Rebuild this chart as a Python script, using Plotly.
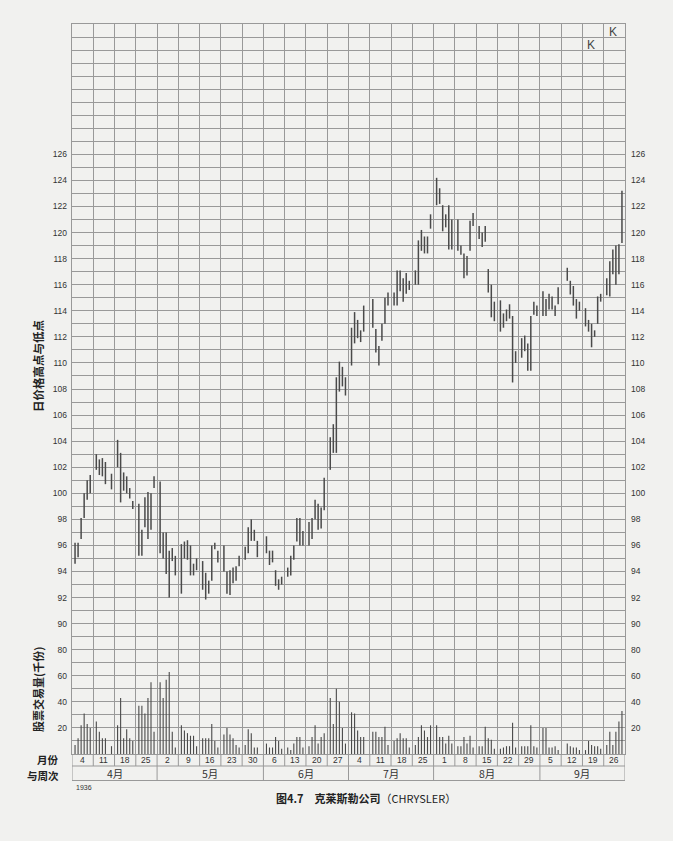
import plotly.graph_objects as go
import pandas as pd

# ---------------- data ----------------
dates = [
    "1936-03-30", "1936-03-31", "1936-04-01", "1936-04-02", "1936-04-03", "1936-04-04",
    "1936-04-06", "1936-04-07", "1936-04-08", "1936-04-09", "1936-04-11",
    "1936-04-13", "1936-04-14", "1936-04-15", "1936-04-16", "1936-04-17", "1936-04-18",
    "1936-04-20", "1936-04-21", "1936-04-22", "1936-04-23", "1936-04-24", "1936-04-25",
    "1936-04-27", "1936-04-28", "1936-04-29", "1936-04-30", "1936-05-01", "1936-05-02",
    "1936-05-04", "1936-05-05", "1936-05-06", "1936-05-07", "1936-05-08", "1936-05-09",
    "1936-05-11", "1936-05-12", "1936-05-13", "1936-05-14", "1936-05-15", "1936-05-16",
    "1936-05-18", "1936-05-19", "1936-05-20", "1936-05-21", "1936-05-22", "1936-05-23",
    "1936-05-25", "1936-05-26", "1936-05-27", "1936-05-28", "1936-05-29",
    "1936-06-01", "1936-06-02", "1936-06-03", "1936-06-04", "1936-06-05", "1936-06-06",
    "1936-06-08", "1936-06-09", "1936-06-10", "1936-06-11", "1936-06-12", "1936-06-13",
    "1936-06-15", "1936-06-16", "1936-06-17", "1936-06-18", "1936-06-19", "1936-06-20",
    "1936-06-22", "1936-06-23", "1936-06-24", "1936-06-25", "1936-06-26", "1936-06-27",
    "1936-06-29", "1936-06-30", "1936-07-01", "1936-07-02", "1936-07-03",
    "1936-07-06", "1936-07-07", "1936-07-08", "1936-07-09", "1936-07-10", "1936-07-11",
    "1936-07-13", "1936-07-14", "1936-07-15", "1936-07-16", "1936-07-17", "1936-07-18",
    "1936-07-20", "1936-07-21", "1936-07-22", "1936-07-23", "1936-07-24", "1936-07-25",
    "1936-07-27", "1936-07-28", "1936-07-29", "1936-07-30", "1936-07-31", "1936-08-01",
    "1936-08-03", "1936-08-04", "1936-08-05", "1936-08-06", "1936-08-07", "1936-08-08",
    "1936-08-10", "1936-08-11", "1936-08-12", "1936-08-13", "1936-08-14", "1936-08-15",
    "1936-08-17", "1936-08-18", "1936-08-19", "1936-08-20", "1936-08-21", "1936-08-22",
    "1936-08-24", "1936-08-25", "1936-08-26", "1936-08-27", "1936-08-28", "1936-08-29",
    "1936-08-31", "1936-09-01", "1936-09-02", "1936-09-03", "1936-09-04", "1936-09-05",
    "1936-09-08", "1936-09-09", "1936-09-10", "1936-09-11", "1936-09-12",
    "1936-09-14", "1936-09-15", "1936-09-16", "1936-09-17", "1936-09-18", "1936-09-19",
    "1936-09-21", "1936-09-22", "1936-09-23", "1936-09-24", "1936-09-25", "1936-09-26",
]

highs = [
    96.2, 96.2, 98.1, 100.0, 101.0, 101.4,
    103.0, 102.6, 102.7, 102.4, 101.5,
    104.1, 103.1, 101.6, 101.3, 100.4, 99.4,
    99.2, 97.2, 99.7, 100.1, 100.0, 101.3,
    100.9, 97.0, 97.0, 95.6, 95.8, 95.2,
    96.1, 96.3, 96.4, 96.0, 94.6, 95.0,
    94.8, 93.9, 93.3, 96.0, 96.2, 95.6,
    96.0, 94.0, 94.1, 94.3, 94.4, 95.2,
    95.9, 97.4, 98.0, 97.2, 96.35,
    96.7, 95.6, 95.6, 94.1, 93.4, 93.6,
    94.3, 95.2, 96.0, 98.1, 98.1, 97.1,
    97.8, 98.1, 99.5, 99.2, 98.9, 101.2,
    104.3, 105.3, 108.9, 110.1, 109.7, 108.9,
    112.7, 113.9, 113.3, 112.5, 114.4,
    114.9, 112.6, 111.3, 113.0, 115.0, 115.4,
    115.4, 117.1, 117.1, 116.5, 116.9, 116.3,
    117.1, 119.4, 120.2, 119.7, 119.7, 121.4,
    124.2, 123.4, 122.1, 121.4, 122.1, 121.0,
    121.0, 119.0, 118.4, 118.2, 120.9, 121.5,
    120.5, 120.0, 120.5, 117.2, 116.0, 114.7,
    114.8, 113.8, 114.1, 114.5, 113.6, 110.9,
    111.9, 112.1, 111.5, 113.6, 114.7, 114.4,
    115.5, 114.9, 115.3, 115.1, 114.4, 115.8,
    117.3, 116.3, 115.9, 114.9, 114.7,
    114.2, 113.3, 113.0, 112.5, 115.1, 115.3,
    116.5, 117.8, 118.7, 119.0, 119.1, 123.2,
]

lows = [
    94.6, 95.1, 96.5, 98.1, 99.5, 100.0,
    101.8, 101.4, 101.3, 100.7, 100.3,
    102.0, 99.3, 100.2, 100.0, 99.6, 98.8,
    95.2, 95.2, 97.4, 96.5, 97.2, 100.4,
    95.4, 95.0, 93.8, 92.0, 94.8, 93.7,
    92.3, 95.0, 94.9, 93.7, 93.7, 94.1,
    92.6, 91.85, 92.3, 93.3, 95.7, 94.7,
    94.0, 92.3, 92.2, 93.1, 93.3, 94.4,
    94.9, 95.4, 96.35, 96.35, 95.1,
    95.4, 94.5, 94.7, 92.9, 92.6, 93.0,
    93.6, 93.7, 94.9, 96.3, 96.0, 96.0,
    96.0, 96.5, 98.0, 97.2, 97.3, 98.7,
    101.8, 103.1, 103.1, 107.8, 108.2, 107.5,
    109.8, 111.5, 111.9, 111.6, 112.4,
    112.7, 110.8, 109.8, 111.7, 113.0, 114.4,
    114.4, 114.4, 115.5, 114.7, 115.3, 115.6,
    116.0, 116.0, 118.6, 118.4, 118.4, 120.3,
    122.1, 122.2, 120.1, 120.4, 118.7, 118.7,
    118.6, 118.3, 116.5, 116.7, 118.6, 120.5,
    119.5, 118.9, 119.3, 115.4, 113.5, 113.2,
    112.4, 112.7, 113.2, 113.4, 108.5, 110.0,
    110.4, 110.9, 109.4, 109.4, 113.7, 113.6,
    113.6, 113.6, 114.1, 114.1, 113.6, 114.5,
    116.3, 115.25, 114.4, 113.4, 114.0,
    112.8, 112.4, 111.2, 112.0, 113.0, 114.7,
    115.2, 115.1, 116.8, 116.0, 116.8, 119.2,
]

volumes = [
    7, 12, 22, 31, 23, 20,
    25, 17, 12, 12, 6,
    22, 43, 12, 19, 12, 10,
    37, 37, 31, 43, 55, 17,
    55, 43, 57, 63, 17, 5,
    22, 18, 16, 14, 14, 6,
    12, 12, 12, 23, 10, 5,
    15, 20, 15, 12, 7, 5,
    7, 19, 16, 5, 5,
    8, 5, 5, 13, 10, 4,
    5, 3, 8, 13, 13, 5,
    6, 13, 22, 8, 13, 16,
    43, 23, 50, 40, 20, 8,
    32, 31, 18, 13, 13,
    17, 17, 13, 13, 21, 7,
    10, 12, 16, 12, 12, 5,
    7, 13, 22, 18, 13, 22,
    22, 13, 13, 8, 14, 8,
    6, 6, 13, 8, 14, 5,
    6, 6, 21, 12, 11, 4,
    4, 5, 6, 6, 24, 5,
    6, 6, 6, 22, 6, 5,
    20, 20, 5, 5, 6, 3,
    8, 6, 5, 5, 3,
    3, 10, 7, 6, 6, 4,
    7, 17, 7, 17, 25, 33,
]

price_ticks = list(range(90, 127, 2))
volume_ticks = [20, 40, 60, 80]

week_ends = [
    "1936-04-04", "1936-04-11", "1936-04-18", "1936-04-25",
    "1936-05-02", "1936-05-09", "1936-05-16", "1936-05-23", "1936-05-30",
    "1936-06-06", "1936-06-13", "1936-06-20", "1936-06-27",
    "1936-07-04", "1936-07-11", "1936-07-18", "1936-07-25",
    "1936-08-01", "1936-08-08", "1936-08-15", "1936-08-22", "1936-08-29",
    "1936-09-05", "1936-09-12", "1936-09-19", "1936-09-26",
]
week_labels = ["4", "11", "18", "25", "2", "9", "16", "23", "30",
               "6", "13", "20", "27", "4", "11", "18", "25",
               "1", "8", "15", "22", "29", "5", "12", "19", "26"]
month_labels = ["4月", "5月", "6月", "7月", "8月", "9月"]
month_week_counts = [4, 5, 4, 4, 5, 4]

# ---------------- styling ----------------
BG = "#f1f1ef"
GRID = "#999999"
INK = "#4a4a4a"
TXT = "#333333"
LAT = "Liberation Sans, Arial, sans-serif"
CJK = "Noto Sans CJK SC, sans-serif"

DAY = pd.Timedelta(days=1)
x_days = pd.to_datetime(dates) + pd.Timedelta(hours=12)
col_start = pd.to_datetime(week_ends) - pd.Timedelta(days=5, hours=12)
col_end = col_start + 7 * DAY
x0, x1 = col_start[0], col_end[-1]

# high-low bars and volume bars as vertical segments
seg_x, seg_y = [], []
for xd, h, l in zip(x_days, highs, lows):
    seg_x += [xd, xd, None]
    seg_y += [l, h, None]
vol_x, vol_y = [], []
for xd, v in zip(x_days, volumes):
    vol_x += [xd, xd, None]
    vol_y += [0, v, None]

fig = go.Figure()
fig.add_trace(go.Scatter(x=seg_x, y=seg_y, mode="lines", yaxis="y",
                         line=dict(color=INK, width=1.5), hoverinfo="skip",
                         showlegend=False))
fig.add_trace(go.Scatter(x=vol_x, y=vol_y, mode="lines", yaxis="y4",
                         line=dict(color=INK, width=1.1), hoverinfo="skip",
                         showlegend=False))
# empty traces so that the label-only axes are drawn
for ax in ("y2", "y3", "y5"):
    fig.add_trace(go.Scatter(x=[], y=[], yaxis=ax, showlegend=False,
                             hoverinfo="skip"))

PRICE_RANGE = [80, 136]
VOL_RANGE = [0, 560]
tickfont = dict(family=LAT, size=8.5, color=TXT)

fig.update_layout(
    width=673, height=841,
    margin=dict(l=72, r=48, t=24, b=87),
    paper_bgcolor=BG, plot_bgcolor=BG,
    xaxis=dict(type="date", range=[x0, x1], tick0=x0, dtick=7 * 86400000,
               showgrid=True, gridcolor=GRID, gridwidth=1,
               showticklabels=False, ticks="", zeroline=False,
               showline=True, mirror=True, linecolor=GRID, linewidth=1),
    yaxis=dict(range=PRICE_RANGE, tickmode="linear", tick0=80, dtick=1,
               showgrid=True, gridcolor=GRID, gridwidth=1,
               showticklabels=False, ticks="", zeroline=False,
               showline=True, mirror=True, linecolor=GRID, linewidth=1),
    yaxis2=dict(overlaying="y", side="left", range=PRICE_RANGE,
                tickmode="array", tickvals=price_ticks, showgrid=False,
                zeroline=False, showline=False, ticks="", tickfont=tickfont,
                ticklabelstandoff=4),
    yaxis3=dict(overlaying="y", side="right", range=PRICE_RANGE,
                tickmode="array", tickvals=price_ticks, showgrid=False,
                zeroline=False, showline=False, ticks="", tickfont=tickfont,
                ticklabelstandoff=5),
    yaxis4=dict(overlaying="y", side="left", range=VOL_RANGE,
                tickmode="array", tickvals=volume_ticks, showgrid=False,
                zeroline=False, showline=False, ticks="", tickfont=tickfont,
                ticklabelstandoff=4),
    yaxis5=dict(overlaying="y", side="right", range=VOL_RANGE,
                tickmode="array", tickvals=volume_ticks, showgrid=False,
                zeroline=False, showline=False, ticks="", tickfont=tickfont,
                ticklabelstandoff=5),
)

# label rows under the grid (paper units: 730 px plot height)
PH = 730.0
WEEK_BOT = -12.0 / PH
MONTH_BOT = -26.5 / PH

shapes = []
line_style = dict(color=GRID, width=1)
for cs in list(col_start) + [x1]:
    shapes.append(dict(type="line", xref="x", yref="paper", x0=cs, x1=cs,
                       y0=0, y1=WEEK_BOT, line=line_style))
for yb in (WEEK_BOT, MONTH_BOT):
    shapes.append(dict(type="line", xref="paper", yref="paper", x0=0, x1=1,
                       y0=yb, y1=yb, line=line_style))
annotations = []
for cs, lab in zip(col_start, week_labels):
    annotations.append(dict(x=cs + 3.5 * DAY, y=WEEK_BOT / 2, xref="x", yref="paper",
                            text=lab, showarrow=False, yanchor="middle",
                            font=dict(family=LAT, size=8.5, color=TXT)))
idx = 0
bounds = [x0]
for lab, n in zip(month_labels, month_week_counts):
    a = col_start[idx]
    b = col_end[idx + n - 1]
    bounds.append(b)
    annotations.append(dict(x=a + (b - a) / 2, y=(WEEK_BOT + MONTH_BOT) / 2,
                            xref="x", yref="paper", text=lab, showarrow=False,
                            yanchor="middle",
                            font=dict(family=CJK, size=10.5, color=TXT)))
    idx += n
for bx in bounds:
    shapes.append(dict(type="line", xref="x", yref="paper", x0=bx, x1=bx,
                       y0=WEEK_BOT, y1=MONTH_BOT, line=line_style))

def px_x(px):
    return (px - 72) / 553.0

def px_y(py):
    return (754 - py) / PH

annotations += [
    dict(x=px_x(38), y=px_y(366), xref="paper", yref="paper", text="日价格高点与低点",
         textangle=-90, showarrow=False, xanchor="center", yanchor="middle",
         font=dict(family=CJK, size=11.5, color="#222", weight="bold")),
    dict(x=px_x(38), y=px_y(690), xref="paper", yref="paper", text="股票交易量(千份)",
         textangle=-90, showarrow=False, xanchor="center", yanchor="middle",
         font=dict(family=CJK, size=11, color="#222", weight="bold")),
    dict(x=px_x(61), y=px_y(759), xref="paper", yref="paper", text="月份",
         showarrow=False, xanchor="right", yanchor="middle",
         font=dict(family=CJK, size=10.5, color="#222", weight="bold")),
    dict(x=px_x(61), y=px_y(775), xref="paper", yref="paper", text="与周次",
         showarrow=False, xanchor="right", yanchor="middle",
         font=dict(family=CJK, size=10.5, color="#222", weight="bold")),
    dict(x=px_x(74), y=px_y(788), xref="paper", yref="paper", text="1936",
         showarrow=False, xanchor="left", yanchor="middle",
         font=dict(family=LAT, size=7, color=TXT)),
    dict(x=px_x(366), y=px_y(798), xref="paper", yref="paper",
         text="<b>图4.7</b>　<b>克莱斯勒公司</b>（CHRYSLER）",
         showarrow=False, xanchor="center", yanchor="middle",
         font=dict(family=CJK, size=11, color="#222")),
    dict(x=px_x(613), y=px_y(32), xref="paper", yref="paper", text="K",
         showarrow=False, xanchor="center", yanchor="middle",
         font=dict(family=LAT, size=12, color="#444")),
    dict(x=px_x(591), y=px_y(45), xref="paper", yref="paper", text="K",
         showarrow=False, xanchor="center", yanchor="middle",
         font=dict(family=LAT, size=12, color="#444")),
]

fig.update_layout(shapes=shapes, annotations=annotations)
fig.write_html("out.html", config={"displayModeBar": False},
               post_script="document.body.style.margin='0px';"
                           "document.body.style.overflow='hidden';")
